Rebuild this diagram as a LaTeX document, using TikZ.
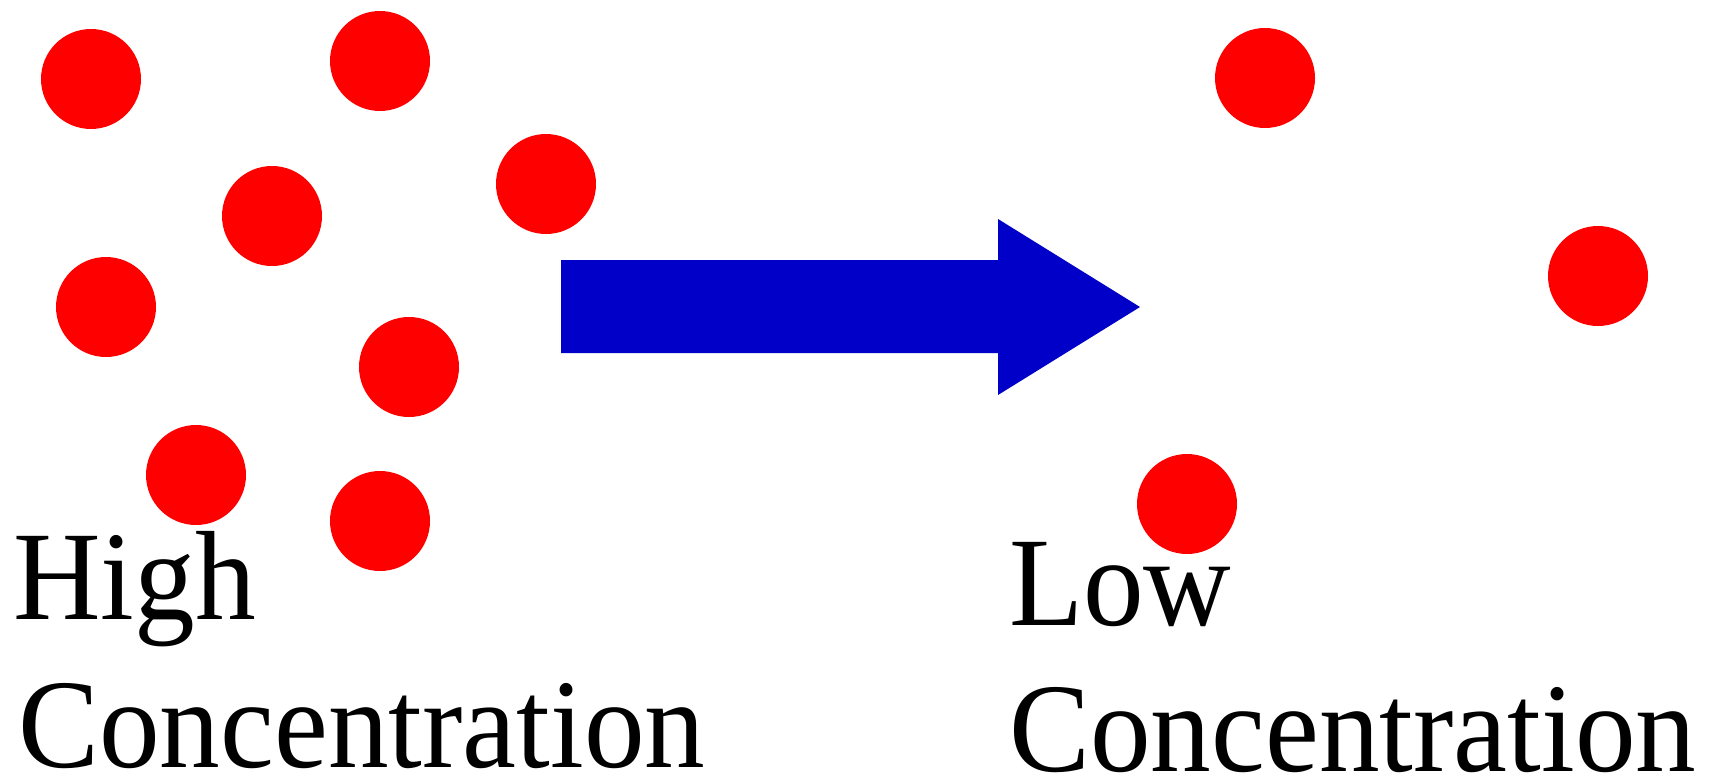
\documentclass[tikz,border=0pt]{standalone}
\usepackage{fontspec}
\setmainfont{Liberation Serif}
\definecolor{dotred}{RGB}{255,0,0}
\definecolor{arrowblue}{RGB}{0,0,200}
\begin{document}
\begin{tikzpicture}[x=1pt,y=-1pt,
  particle/.style={circle,fill=dotred,draw=none,minimum size=100pt,inner sep=0pt},
  label/.style={anchor=base west,inner sep=0pt,text=black,font=\fontsize{127}{152}\selectfont}]
  \useasboundingbox (0,0) rectangle (1719,779);
  % particles on the crowded side
  \node[particle] (p1) at (91,79) {};
  \node[particle] (p2) at (380,61) {};
  \node[particle] (p3) at (272,216) {};
  \node[particle] (p4) at (546,184) {};
  \node[particle] (p5) at (106,307) {};
  \node[particle] (p6) at (409,367) {};
  \node[particle] (p7) at (196,475) {};
  \node[particle] (p8) at (380,521) {};
  % particles on the sparse side
  \node[particle] (q1) at (1265,78) {};
  \node[particle] (q2) at (1598,276) {};
  \node[particle] (q3) at (1187,504) {};
  % direction of diffusion
  \fill[arrowblue] (561,260) -- (998,260) -- (998,219) -- (1140,307)
    -- (998,395) -- (998,353) -- (561,353) -- cycle;
  % labels
  \node[label] (h1) at (13,619) {\scalebox{0.955}[1]{High}};
  \node[label] (h2) at (18,767) {\scalebox{0.955}[1]{Concentration}};
  \node[label] (l1) at (1009,625) {\scalebox{0.955}[1]{Low}};
  \node[label] (l2) at (1009,771) {\scalebox{0.955}[1]{Concentration}};
\end{tikzpicture}
\end{document}
